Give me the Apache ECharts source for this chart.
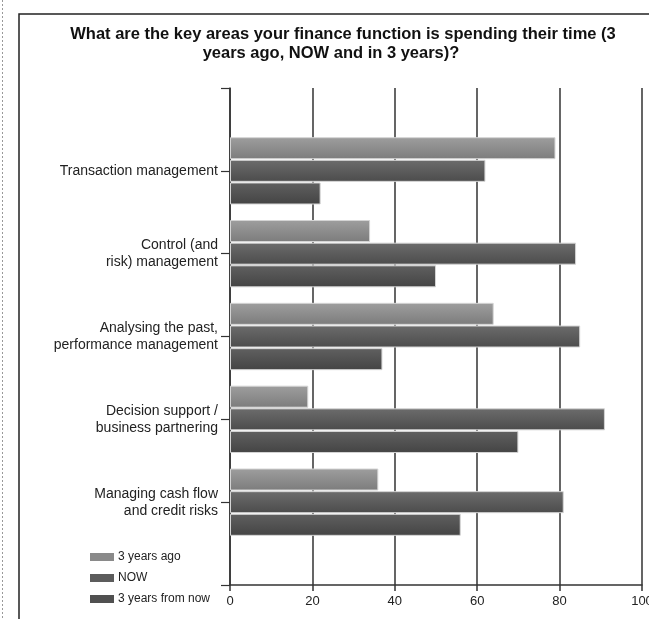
<!DOCTYPE html>
<html>
<head>
<meta charset="utf-8">
<script src="https://cdn.jsdelivr.net/npm/echarts@6/dist/echarts.min.js"></script>
<style>
  html, body { margin: 0; padding: 0; background: #fff; overflow: hidden; }
  #chart { width: 649px; height: 619px; }
</style>
</head>
<body>
<div id="chart"></div>
<script>
// Survey areas, top to bottom
var categories = [
  'Transaction management',
  'Control (and\nrisk) management',
  'Analysing the past,\nperformance management',
  'Decision support /\nbusiness partnering',
  'Managing cash flow\nand credit risks'
];
var seriesNames = ['3 years ago', 'NOW', '3 years from now'];
var threeYearsAgo = [79, 34, 64, 19, 36];
var now = [62, 84, 85, 91, 81];
var threeYearsFromNow = [22, 50, 37, 70, 56];
var xTicks = { min: 0, max: 100, step: 20 };

// The category axis runs edge-to-edge with an empty slot at each end,
// so that every group sits on a tick mark.
function padded(arr) { return [null].concat(arr, [null]); }
var axisCats = [''].concat(categories, ['']);

function grad(top, bottom) {
  return new echarts.graphic.LinearGradient(0, 0, 0, 1, [
    { offset: 0, color: top },
    { offset: 1, color: bottom }
  ]);
}
var fills = [grad('#9e9e9e', '#7c7c7c'), grad('#6c6c6c', '#4c4c4c'), grad('#606060', '#444444')];
var legendFills = ['#8a8a8a', '#5c5c5c', '#505050'];

var chart = echarts.init(document.getElementById('chart'), null, { renderer: 'canvas' });

var valueSets = [threeYearsAgo, now, threeYearsFromNow];
var series = valueSets.map(function (vals, i) {
  return {
    name: seriesNames[i],
    type: 'bar',
    data: padded(vals),
    barWidth: 22,
    barGap: '3%',
    itemStyle: { color: fills[i], borderColor: '#d4d4d4', borderWidth: 1 },
    emphasis: { disabled: true },
    animation: false
  };
});

var titleFont = { fontFamily: 'Liberation Sans, Arial, sans-serif', fontWeight: 'bold', fontSize: 16.5, color: '#111' };

chart.setOption({
  animation: false,
  backgroundColor: '#ffffff',
  title: [
    {
      text: 'What are the key areas your finance function is spending their time (3',
      left: 338, top: 21, textAlign: 'center', textStyle: titleFont
    },
    {
      text: 'years ago, NOW and in 3 years)?',
      left: 326, top: 40, textAlign: 'center', textStyle: titleFont
    }
  ],
  legend: {
    orient: 'vertical',
    left: 85, top: 546,
    itemWidth: 24, itemHeight: 8,
    itemGap: 9,
    icon: 'rect',
    data: seriesNames.map(function (n, i) { return { name: n, itemStyle: { color: legendFills[i], borderWidth: 0 } }; }),
    textStyle: { fontFamily: 'Liberation Sans Narrow, Liberation Sans, sans-serif', fontSize: 12, color: '#222', padding: [0, 0, 0, -1] },
    selectedMode: false
  },
  grid: { left: 230, right: 7, top: 88, bottom: 34, containLabel: false, outerBoundsMode: 'none' },
  xAxis: {
    type: 'value',
    min: xTicks.min, max: xTicks.max, interval: xTicks.step,
    axisLine: { show: true, lineStyle: { color: '#333', width: 1.5 } },
    axisTick: { show: true, length: 6, lineStyle: { color: '#333', width: 1.5 } },
    splitLine: { show: true, lineStyle: { color: '#555', width: 1.8 } },
    axisLabel: { fontFamily: 'Liberation Sans, Arial, sans-serif', fontSize: 13, color: '#222', margin: 10 }
  },
  yAxis: {
    type: 'category',
    inverse: true,
    boundaryGap: false,
    data: axisCats,
    axisLine: { show: true, lineStyle: { color: '#333', width: 1.5 } },
    axisTick: { show: true, length: 9, lineStyle: { color: '#333', width: 1.2 } },
    axisLabel: {
      fontFamily: 'Liberation Sans, Arial, sans-serif', fontSize: 14, color: '#222',
      margin: 12, lineHeight: 17, align: 'right'
    },
    splitLine: { show: false }
  },
  graphic: [
    // panel frame
    { type: 'rect', shape: { x: 19, y: 14, width: 700, height: 700 }, style: { fill: null, stroke: '#222', lineWidth: 1.5 }, z: 10, silent: true },
    // dotted page margin
    { type: 'line', shape: { x1: 2.5, y1: 0, x2: 2.5, y2: 619 }, style: { stroke: '#999', lineWidth: 1, lineDash: [2, 2] }, silent: true }
  ],
  series: series
});
</script>
</body>
</html>
